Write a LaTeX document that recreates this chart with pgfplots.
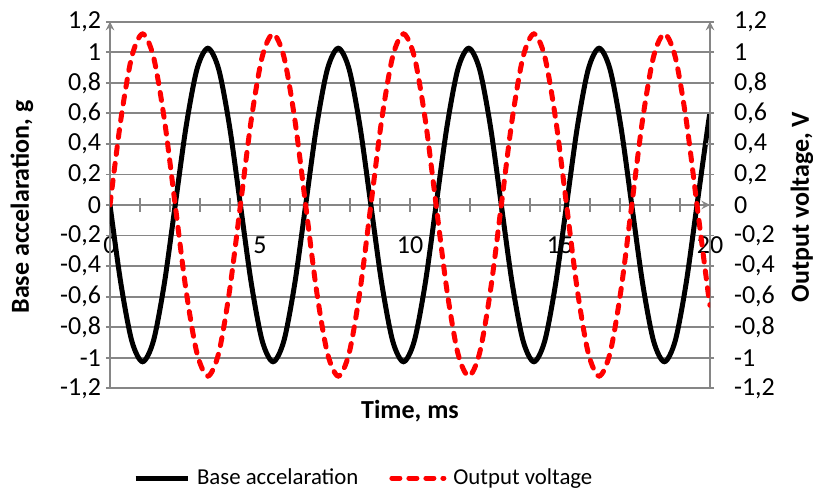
\documentclass[border=0pt]{standalone}
\usepackage{fontspec}
\setmainfont{Carlito}
\usepackage{pgfplots}
\usepackage{pgfplotstable}
\pgfplotsset{compat=1.18}
\definecolor{gridgray}{RGB}{134,134,134}
\pgfplotstableread{
t b v
0.000 0 0
0.362 -0.513 0.56
0.725 -0.889 0.97
1.087 -1.026 1.12
1.449 -0.889 0.97
1.812 -0.513 0.56
2.174 0 0
2.536 0.513 -0.56
2.899 0.889 -0.97
3.261 1.026 -1.12
3.623 0.889 -0.97
3.986 0.513 -0.56
4.348 0 0
4.710 -0.513 0.56
5.073 -0.889 0.97
5.435 -1.026 1.12
5.797 -0.889 0.97
6.160 -0.513 0.56
6.522 0 0
6.884 0.513 -0.56
7.247 0.889 -0.97
7.609 1.026 -1.12
7.971 0.889 -0.97
8.334 0.513 -0.56
8.696 0 0
9.058 -0.513 0.56
9.421 -0.889 0.97
9.783 -1.026 1.12
10.145 -0.889 0.97
10.508 -0.513 0.56
10.870 0 0
11.232 0.513 -0.56
11.595 0.889 -0.97
11.957 1.026 -1.12
12.319 0.889 -0.97
12.682 0.513 -0.56
13.044 0 0
13.406 -0.513 0.56
13.769 -0.889 0.97
14.131 -1.026 1.12
14.493 -0.889 0.97
14.856 -0.513 0.56
15.218 0 0
15.580 0.513 -0.56
15.943 0.889 -0.97
16.305 1.026 -1.12
16.667 0.889 -0.97
17.030 0.513 -0.56
17.392 0 0
17.754 -0.513 0.56
18.117 -0.889 0.97
18.479 -1.026 1.12
18.841 -0.889 0.97
19.204 -0.513 0.56
19.566 0 0
19.928 0.513 -0.56
20.000 0.602 -0.657
}\data

\pgfplotsset{
  base/.style={
    width=300pt, height=183.3pt, scale only axis,
    xmin=0, xmax=20, ymin=-1.2, ymax=1.2,
    font=\fontsize{13}{15}\selectfont,
    axis line style={-, gridgray, line width=0.9pt},
  },
  yt/.style={
    ytick={-1.2,-1,-0.8,-0.6,-0.4,-0.2,0,0.2,0.4,0.6,0.8,1,1.2},
    yticklabels={{-1,2},{-1},{-0,8},{-0,6},{-0,4},{-0,2},{0},{0,2},{0,4},{0,6},{0,8},{1},{1,2}},
    ytick align=outside, major tick length=4pt,
    ytick style={gridgray, line width=0.9pt},
  },
}

\begin{document}
\begin{tikzpicture}
\path[use as bounding box] (-55pt,-51.35pt) rectangle (351.5pt,194.15pt);

% x axis through zero
\begin{axis}[base,
  axis x line=middle, axis y line=none,
  hide obscured x ticks=false,
  xtick={0,...,20},
  xticklabels={0,,,,,5,,,,,10,,,,,15,,,,,20},
  xtick align=center, major tick length=7pt,
  xtick style={gridgray, line width=0.9pt},
  xticklabel style={anchor=north, yshift=-9pt},
  ytick=\empty,
  xlabel={\bfseries Time, ms},
  every axis x label/.style={at={(axis description cs:0.5,-0.062)}, anchor=center},
]
\end{axis}

% left axis: base acceleration
\begin{axis}[base, yt,
  axis x line=none, axis y line=left,
  ymajorgrids, grid style={gridgray, line width=0.9pt},
  yticklabel style={xshift=1pt},
  ylabel={\bfseries Base accelaration, g},
  every axis y label/.style={at={(axis description cs:-0.1467,0.4945)}, anchor=center, rotate=90},
]
\addplot[black, line width=2.5pt, smooth] table[x=t, y=b]{\data};
\end{axis}

% right axis: output voltage
\begin{axis}[base, yt,
  axis x line=none, axis y line=right,
  yticklabel style={xshift=6.5pt},
  ylabel={\bfseries Output voltage, V},
  every axis y label/.style={at={(axis description cs:1.1533,0.4945)}, anchor=center, rotate=90},
  legend columns=2,
  legend style={draw=none, fill=none, at={(axis description cs:0.427,-0.2447)}, anchor=center,
    font=\fontsize{11.4}{14}\selectfont,
    nodes={inner xsep=3.5pt},
    /tikz/every even column/.append style={column sep=12pt}},
  legend image code/.code={\draw[#1] (0pt,0pt) -- (26pt,0pt);},
]
\addlegendimage{black, line width=2.5pt}
\addlegendentry{Base accelaration}
\addplot[red, line width=2.5pt, smooth, line cap=round, dash pattern=on 4pt off 4.5pt] table[x=t, y=v]{\data};
\addlegendentry{Output voltage}
\end{axis}
\end{tikzpicture}
\end{document}
